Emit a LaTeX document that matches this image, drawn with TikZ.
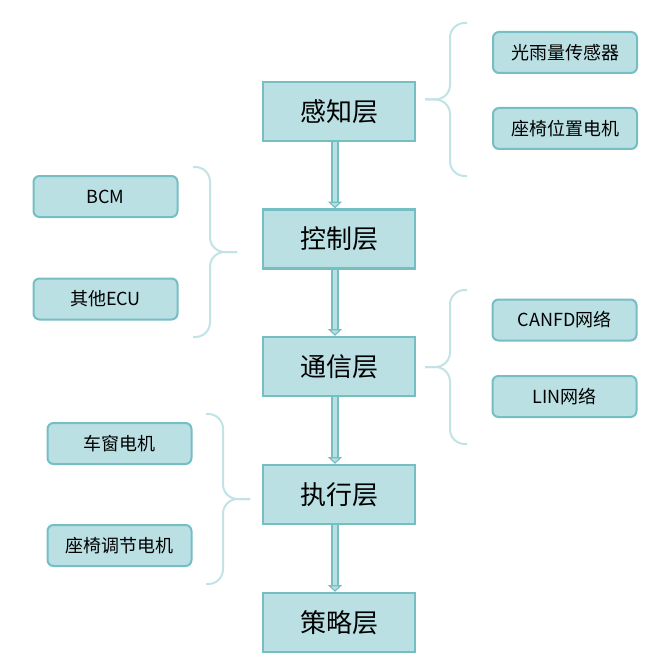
\documentclass[tikz,border=0pt]{standalone}
\usepackage{fontspec}
\setmainfont{Noto Sans CJK SC}
\usetikzlibrary{arrows.meta}
\definecolor{boxfill}{RGB}{187,224,228}
\definecolor{boxline}{RGB}{116,190,196}
\definecolor{bracecol}{RGB}{194,227,230}
\tikzset{
  layer/.style={draw=boxline, fill=boxfill, line width=1.8pt, minimum width=114pt, minimum height=44.25pt, inner sep=0pt, font=\fontsize{19.5}{22}\selectfont},
  item/.style={draw=boxline, fill=boxfill, line width=1.5pt, rounded corners=4.5pt, minimum width=108pt, minimum height=30.75pt, inner sep=0pt, font=\fontsize{13.5}{16}\selectfont},
  flow/.style={draw=boxline, line width=0.9pt, double=boxfill, double distance=3.6pt, -{Triangle[length=5pt,width=10.5pt,fill=boxfill]}},
  curly/.style={draw=bracecol, line width=1.5pt, rounded corners=11pt}
}
\begin{document}
\begin{tikzpicture}[x=0.75pt, y=-0.75pt]
\useasboundingbox (0,0) rectangle (660,663);
% layers
\node[layer] (per) at (339,111.5) {感知层};
\node[layer] (ctl) at (339,239) {控制层};
\node[layer] (com) at (339,366.5) {通信层};
\node[layer] (act) at (339,494.5) {执行层};
\node[layer] (stg) at (339,622.5) {策略层};
% side items
\node[item] (rain) at (565,52.5) {光雨量传感器};
\node[item] (seatpos) at (565,128.5) {座椅位置电机};
\node[item] (bcm) at (105.5,196.5) {BCM};
\node[item] (ecu) at (105.5,299) {其他ECU};
\node[item] (canfd) at (564.5,320) {CANFD网络};
\node[item] (lin) at (564.5,396.5) {LIN网络};
\node[item] (win) at (119.5,443.5) {车窗电机};
\node[item] (seatadj) at (119.5,545.5) {座椅调节电机};
% arrows between layers
\draw[flow] ([xshift=-3pt]per.south) -- ([xshift=-3pt]ctl.north);
\draw[flow] ([xshift=-3pt]ctl.south) -- ([xshift=-3pt]com.north);
\draw[flow] ([xshift=-3pt]com.south) -- ([xshift=-3pt]act.north);
\draw[flow] ([xshift=-3pt]act.south) -- ([xshift=-3pt]stg.north);
% braces
\draw[curly] (467,23) -- (450,23) -- (450,99.5) -- (425,99.5); %per top
\draw[curly] (467,176) -- (450,176) -- (450,99.5) -- (425,99.5); %per bottom
\draw[curly] (193,167) -- (210,167) -- (210,252) -- (237,252); %ctl top
\draw[curly] (193,337) -- (210,337) -- (210,252) -- (237,252); %ctl bottom
\draw[curly] (467,290) -- (450,290) -- (450,367) -- (425,367); %com top
\draw[curly] (467,444) -- (450,444) -- (450,367) -- (425,367); %com bottom
\draw[curly] (206,414) -- (223,414) -- (223,499) -- (250,499); %act top
\draw[curly] (206,584) -- (223,584) -- (223,499) -- (250,499); %act bottom
\end{tikzpicture}
\end{document}
